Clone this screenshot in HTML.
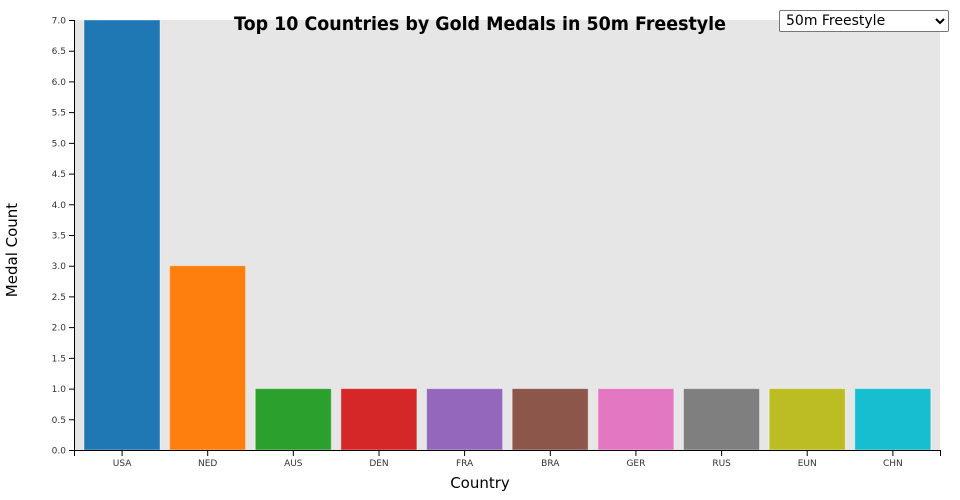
<!DOCTYPE html>
<html><head><meta charset="utf-8"><style>
body{margin:0;background:#fff;width:960px;height:500px;overflow:hidden;position:relative;font-family:"DejaVu Sans","Liberation Sans",sans-serif}
select{position:absolute;left:779px;top:10px;width:170px;height:22px;font-size:14px;font-family:"DejaVu Sans","Liberation Sans",sans-serif;border:1px solid #767676;border-radius:2px;background:#fff;padding:0 2px}
</style></head><body>
<svg width="960" height="500" style="position:absolute;left:0;top:0">
<rect x="75" y="20" width="865" height="430" fill="#e6e6e6"/>
<g stroke="rgba(255,255,255,0.4)" stroke-width="1">
<rect x="84" y="20" width="76" height="430" fill="#1f77b4"/>
<rect x="169.6" y="265.7" width="76" height="184.3" fill="#ff7f0e"/>
<rect x="255.3" y="388.6" width="76" height="61.4" fill="#2ca02c"/>
<rect x="340.9" y="388.6" width="76" height="61.4" fill="#d62728"/>
<rect x="426.6" y="388.6" width="76" height="61.4" fill="#9467bd"/>
<rect x="512.2" y="388.6" width="76" height="61.4" fill="#8c564b"/>
<rect x="597.9" y="388.6" width="76" height="61.4" fill="#e377c2"/>
<rect x="683.5" y="388.6" width="76" height="61.4" fill="#7f7f7f"/>
<rect x="769.2" y="388.6" width="76" height="61.4" fill="#bcbd22"/>
<rect x="854.8" y="388.6" width="76" height="61.4" fill="#17becf"/>
</g>
<g stroke="#000" fill="none">
<path d="M74.5,20V450.5H940.5V456"/>
<path d="M74.5,450.5V456"/>
</g>
<g font-size="9" fill="#333" text-anchor="end" stroke="none">
<g stroke="#000"><path d="M69,20.5H74.5M69,51.2H74.5M69,81.9H74.5M69,112.6H74.5M69,143.4H74.5M69,174.1H74.5M69,204.8H74.5M69,235.5H74.5M69,266.2H74.5M69,296.9H74.5M69,327.6H74.5M69,358.4H74.5M69,389.1H74.5M69,419.8H74.5M69,450.5H74.5"/></g>
<text x="66" y="23.5">7.0</text><text x="66" y="54.2">6.5</text><text x="66" y="84.9">6.0</text><text x="66" y="115.6">5.5</text><text x="66" y="146.4">5.0</text><text x="66" y="177.1">4.5</text><text x="66" y="207.8">4.0</text><text x="66" y="238.5">3.5</text><text x="66" y="269.2">3.0</text><text x="66" y="299.9">2.5</text><text x="66" y="330.6">2.0</text><text x="66" y="361.4">1.5</text><text x="66" y="392.1">1.0</text><text x="66" y="422.8">0.5</text><text x="66" y="453.5">0.0</text>
</g>
<g font-size="9" fill="#333" text-anchor="middle">
<g stroke="#000"><path d="M122.1,450V456M207.7,450V456M293.3,450V456M379,450V456M464.6,450V456M550.3,450V456M635.9,450V456M721.6,450V456M807.2,450V456M892.9,450V456"/></g>
<text x="122.1" y="466">USA</text><text x="207.7" y="466">NED</text><text x="293.3" y="466">AUS</text><text x="379" y="466">DEN</text><text x="464.6" y="466">FRA</text><text x="550.3" y="466">BRA</text><text x="635.9" y="466">GER</text><text x="721.6" y="466">RUS</text><text x="807.2" y="466">EUN</text><text x="892.9" y="466">CHN</text>
</g>
<text x="480" y="488" font-size="15" text-anchor="middle" fill="#000">Country</text>
<text transform="translate(17,250) rotate(-90)" font-size="15" text-anchor="middle" fill="#000">Medal Count</text>
<text x="480" y="30" font-size="19" font-weight="bold" text-anchor="middle" textLength="492" lengthAdjust="spacingAndGlyphs" fill="#000">Top 10 Countries by Gold Medals in 50m Freestyle</text>
</svg>
<select><option>50m Freestyle</option></select>
</body></html>
